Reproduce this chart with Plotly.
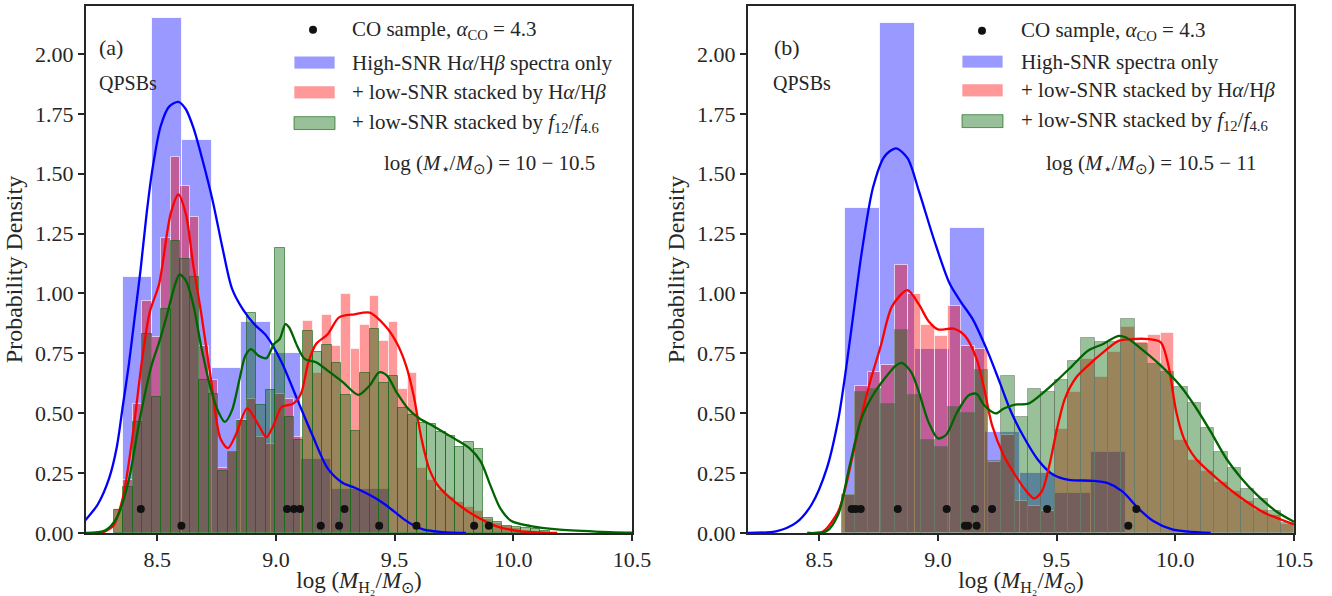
import plotly.graph_objects as go

# ---------------- data ----------------
X_RANGE = [8.2, 10.5]
Y_RANGE = [0.0, 2.2]
X_TICKS = [8.5, 9.0, 9.5, 10.0, 10.5]
X_TICK_LABELS = ["8.5", "9.0", "9.5", "10.0", "10.5"]
Y_TICKS = [0.0, 0.25, 0.5, 0.75, 1.0, 1.25, 1.5, 1.75, 2.0]
Y_TICK_LABELS = ["0.00", "0.25", "0.50", "0.75", "1.00", "1.25", "1.50", "1.75", "2.00"]

# Panel (a): log(M*/Msun) = 10 - 10.5
a_blue_start, a_blue_width = 8.355, 0.125
a_blue_heights = [1.07, 2.15, 1.64, 0.69, 0.88, 0.75, 0.31, 0.185, 0.185]

a_fine_start, a_fine_width = 8.318, 0.0399
a_red_heights = [0.10, 0.22, 0.54, 0.97, 0.82, 1.23, 1.57, 1.45, 1.32, 0.78,
                 0.64, 0.27, 0.34, 0.47, 0.56, 0.40, 0.37, 0.58, 0.56, 0.40,
                 0.885, 0.67, 0.909, 0.78, 0.996, 0.77, 0.87, 0.99, 0.80, 0.88,
                 0.60, 0.668, 0.27, 0.22, 0.18, 0.15, 0.13, 0.11, 0.09, 0.06,
                 0.04, 0.03, 0.02, 0.01]
a_green_heights = [0.098, 0.19, 0.464, 0.83, 0.568, 0.934, 1.22, 1.144, 1.07, 0.64,
                   0.58, 0.26, 0.34, 0.467, 0.92, 0.536, 0.597, 1.19, 0.485, 0.39,
                   0.845, 0.754, 0.785, 0.71, 0.577, 0.425, 0.67, 0.85, 0.627, 0.655,
                   0.52, 0.494, 0.46, 0.454, 0.42, 0.405, 0.36, 0.38, 0.35, 0.063,
                   0.047, 0.03, 0.025, 0.02, 0.015, 0.01]

a_blue_kde_x = [8.194, 8.25, 8.298, 8.33, 8.355, 8.38, 8.405, 8.43, 8.455, 8.48,
                8.515, 8.55, 8.589, 8.62, 8.653, 8.69, 8.734, 8.775, 8.815,
                8.863, 8.91, 8.96, 9.024, 9.089, 9.153, 9.218, 9.282, 9.33,
                9.379, 9.42, 9.46, 9.50, 9.54, 9.58, 9.62, 9.70, 9.80]
a_blue_kde_y = [0.05, 0.12, 0.23, 0.36, 0.53, 0.70, 0.90, 1.10, 1.33, 1.52,
                1.70, 1.78, 1.80, 1.77, 1.69, 1.56, 1.385, 1.19, 1.02,
                0.93, 0.87, 0.823, 0.713, 0.56, 0.41, 0.27, 0.209, 0.19,
                0.167, 0.145, 0.119, 0.088, 0.057, 0.032, 0.015, 0.004, 0.0]

a_red_kde_x = [8.266, 8.315, 8.355, 8.395, 8.435, 8.468, 8.508, 8.556, 8.589, 8.621,
               8.653, 8.685, 8.726, 8.766, 8.798, 8.831, 8.879, 8.927, 8.96, 8.99,
               9.024, 9.073, 9.105, 9.137, 9.169, 9.218, 9.266, 9.33, 9.395, 9.46,
               9.508, 9.548, 9.58, 9.613, 9.645, 9.685, 9.75, 9.83, 9.927, 10.024,
               10.185]
a_red_kde_y = [0.0, 0.03, 0.146, 0.395, 0.713, 0.92, 1.04, 1.33, 1.413, 1.33,
               1.11, 0.92, 0.644, 0.395, 0.354, 0.41, 0.52, 0.45, 0.40, 0.45,
               0.526, 0.54, 0.58, 0.713, 0.789, 0.83, 0.90, 0.913, 0.92, 0.865,
               0.795, 0.70, 0.575, 0.395, 0.27, 0.195, 0.133, 0.077, 0.029, 0.008,
               0.0]

a_green_kde_x = [8.194, 8.282, 8.33, 8.379, 8.427, 8.476, 8.508, 8.54, 8.573, 8.594,
                 8.621, 8.653, 8.685, 8.726, 8.758, 8.785, 8.815, 8.847, 8.871, 8.895,
                 8.927, 8.96, 8.992, 9.016, 9.04, 9.056, 9.089, 9.121, 9.169, 9.218,
                 9.282, 9.347, 9.395, 9.435, 9.468, 9.508, 9.556, 9.605, 9.669, 9.75,
                 9.815, 9.863, 9.903, 9.944, 9.992, 10.073, 10.185, 10.347, 10.5]
a_green_kde_y = [0.0, 0.011, 0.064, 0.215, 0.478, 0.699, 0.796, 0.906, 1.03, 1.079,
                 1.054, 0.948, 0.78, 0.60, 0.505, 0.464, 0.512, 0.644, 0.74, 0.768,
                 0.74, 0.73, 0.789, 0.81, 0.872, 0.858, 0.782, 0.727, 0.713, 0.678,
                 0.63, 0.577, 0.616, 0.671, 0.657, 0.588, 0.52, 0.478, 0.443, 0.395,
                 0.354, 0.298, 0.20, 0.105, 0.05, 0.029, 0.015, 0.006, 0.001]

a_co_upper_x = [8.431, 9.047, 9.076, 9.102, 9.289]
a_co_lower_x = [8.602, 9.189, 9.266, 9.435, 9.592, 9.835, 9.897]

# Panel (b): log(M*/Msun) = 10.5 - 11
b_blue_start, b_blue_width = 8.607, 0.148
b_blue_heights = [1.358, 2.128, 0.77, 1.272, 0.42, 0.25, 0.167, 0.337]

b_fine_start, b_fine_width = 8.594, 0.0561
b_red_heights = [0.16, 0.613, 0.671, 0.70, 1.12, 0.996, 0.867, 0.823, 0.947, 0.78,
                 0.77, 0.298, 0.41, 0.135, 0.112, 0.09, 0.436, 0.588, 0.726, 0.65,
                 0.757, 0.86, 0.796, 0.826, 0.833, 0.388, 0.305, 0.257, 0.215, 0.174,
                 0.133, 0.098, 0.075, 0.036]
b_green_heights = [0.157, 0.588, 0.60, 0.54, 0.848, 0.577, 0.39, 0.36, 0.526, 0.50,
                   0.68, 0.30, 0.655, 0.485, 0.60, 0.588, 0.637, 0.72, 0.816, 0.796,
                   0.796, 0.895, 0.79, 0.706, 0.671, 0.609, 0.544, 0.439, 0.34, 0.273,
                   0.185, 0.142, 0.091, 0.04]

b_blue_kde_x = [8.177, 8.322, 8.403, 8.468, 8.532, 8.581, 8.613, 8.654, 8.678, 8.726,
                8.775, 8.823, 8.872, 8.92, 8.985, 9.05, 9.1, 9.147, 9.211, 9.26,
                9.308, 9.357, 9.422, 9.486, 9.551, 9.648, 9.713, 9.777, 9.842, 9.907,
                9.987, 10.149]
b_blue_kde_y = [0.0, 0.008, 0.043, 0.119, 0.27, 0.478, 0.685, 0.99, 1.164, 1.44,
                1.572, 1.606, 1.565, 1.427, 1.22, 1.04, 0.96, 0.892, 0.754, 0.63,
                0.506, 0.409, 0.305, 0.243, 0.222, 0.218, 0.209, 0.174, 0.105, 0.05,
                0.015, 0.0]

b_red_kde_x = [8.45, 8.516, 8.58, 8.613, 8.662, 8.71, 8.759, 8.807, 8.872, 8.92,
               8.96, 9.0, 9.066, 9.114, 9.163, 9.195, 9.228, 9.276, 9.325, 9.373,
               9.405, 9.438, 9.47, 9.502, 9.535, 9.583, 9.632, 9.696, 9.761, 9.81,
               9.89, 9.939, 9.971, 10.004, 10.036, 10.085, 10.182, 10.278, 10.376, 10.5]
b_red_kde_y = [0.0, 0.006, 0.09, 0.20, 0.42, 0.616, 0.78, 0.947, 1.014, 0.954,
               0.885, 0.85, 0.853, 0.823, 0.727, 0.602, 0.45, 0.326, 0.243, 0.174,
               0.144, 0.174, 0.285, 0.436, 0.561, 0.65, 0.699, 0.754, 0.802, 0.809,
               0.809, 0.796, 0.699, 0.506, 0.395, 0.312, 0.222, 0.146, 0.084, 0.036]

b_green_kde_x = [8.45, 8.532, 8.58, 8.629, 8.678, 8.726, 8.775, 8.823, 8.848, 8.888,
                 8.92, 8.96, 9.0, 9.034, 9.082, 9.13, 9.163, 9.195, 9.244, 9.276,
                 9.325, 9.381, 9.438, 9.502, 9.567, 9.632, 9.696, 9.761, 9.793, 9.858,
                 9.939, 10.02, 10.085, 10.149, 10.214, 10.278, 10.343, 10.424, 10.5]
b_green_kde_y = [0.0, 0.008, 0.077, 0.285, 0.478, 0.575, 0.644, 0.699, 0.71, 0.671,
                 0.588, 0.464, 0.395, 0.409, 0.506, 0.575, 0.581, 0.533, 0.499, 0.519,
                 0.536, 0.54, 0.581, 0.637, 0.699, 0.761, 0.789, 0.823, 0.816, 0.768,
                 0.699, 0.616, 0.526, 0.423, 0.312, 0.229, 0.16, 0.091, 0.047]

b_co_upper_x = [8.637, 8.653, 8.675, 8.831, 9.037, 9.156, 9.228, 9.460, 9.836]
b_co_lower_x = [9.114, 9.127, 9.163, 9.802]

CO_UPPER_Y = 0.10
CO_LOWER_Y = 0.03

LEGEND_LABELS = {
    "a": ["CO sample, <i>α</i><sub>CO</sub> = 4.3",
          "High-SNR H<i>α</i>/H<i>β</i> spectra only",
          "+ low-SNR stacked by H<i>α</i>/H<i>β</i>",
          "+ low-SNR stacked by <i>f</i><sub>12</sub>/<i>f</i><sub>4.6</sub>"],
    "b": ["CO sample, <i>α</i><sub>CO</sub> = 4.3",
          "High-SNR spectra only",
          "+ low-SNR stacked by H<i>α</i>/H<i>β</i>",
          "+ low-SNR stacked by <i>f</i><sub>12</sub>/<i>f</i><sub>4.6</sub>"],
}
MASS_LABELS = {"a": "log (<i>M</i><sub>⋆</sub>/<i>M</i><sub>⊙</sub>) = 10 − 10.5",
               "b": "log (<i>M</i><sub>⋆</sub>/<i>M</i><sub>⊙</sub>) = 10.5 − 11"}
PANEL_LABELS = {"a": "(a)", "b": "(b)"}
SAMPLE_LABEL = "QPSBs"
X_TITLE = "log (<i>M</i><sub>H₂</sub>/<i>M</i><sub>⊙</sub>)"
Y_TITLE = "Probability Density"

# ---------------- style ----------------
FONT = "Liberation Serif"
INK = "#262626"
BLUE_FILL = "rgba(0,0,255,0.4)"
RED_FILL = "rgba(255,0,0,0.4)"
GREEN_FILL = "rgba(0,100,0,0.4)"

W, H = 1332, 596
ML, MR, MT, MB = 86, 38, 4, 61
PLOT_W = W - ML - MR
PANEL_PX = {"a": (86, 632), "b": (748, 1294)}
AX = {"a": ("x", "y"), "b": ("x2", "y2")}


def centers(start, width, n):
    return [start + width * (i + 0.5) for i in range(n)]


fig = go.Figure()


def add_bars(panel, start, width, heights, fill, edge, edge_w):
    xa, ya = AX[panel]
    fig.add_trace(go.Bar(
        x=centers(start, width, len(heights)), y=heights, width=width,
        marker=dict(color=fill, line=dict(color=edge, width=edge_w)),
        xaxis=xa, yaxis=ya, showlegend=False, hoverinfo="x+y"))


def add_line(panel, xs, ys, color):
    xa, ya = AX[panel]
    fig.add_trace(go.Scatter(x=xs, y=ys, mode="lines",
                             line=dict(color=color, width=2.3, shape="spline", smoothing=0.8),
                             xaxis=xa, yaxis=ya, showlegend=False))


def add_dots(panel, up, low):
    xa, ya = AX[panel]
    fig.add_trace(go.Scatter(x=up + low, y=[CO_UPPER_Y] * len(up) + [CO_LOWER_Y] * len(low),
                             mode="markers", marker=dict(color="#111111", size=8),
                             xaxis=xa, yaxis=ya, showlegend=False))


# panel a
add_bars("a", a_blue_start, a_blue_width, a_blue_heights, BLUE_FILL, "rgba(255,255,255,0.8)", 1)
add_bars("a", a_fine_start, a_fine_width, a_red_heights, RED_FILL, "rgba(255,255,255,0.6)", 1)
add_bars("a", a_fine_start, a_fine_width, a_green_heights, GREEN_FILL, "rgba(0,90,0,0.55)", 1)
# panel b
add_bars("b", b_blue_start, b_blue_width, b_blue_heights, BLUE_FILL, "rgba(255,255,255,0.8)", 1)
add_bars("b", b_fine_start, b_fine_width, b_red_heights, RED_FILL, "rgba(255,255,255,0.6)", 1)
add_bars("b", b_fine_start, b_fine_width, b_green_heights, GREEN_FILL, "rgba(90,100,90,0.45)", 1)

add_line("a", a_blue_kde_x, a_blue_kde_y, "#0000ff")
add_line("a", a_red_kde_x, a_red_kde_y, "#ff0000")
add_line("a", a_green_kde_x, a_green_kde_y, "#006400")
add_line("b", b_blue_kde_x, b_blue_kde_y, "#0000ff")
add_line("b", b_red_kde_x, b_red_kde_y, "#ff0000")
add_line("b", b_green_kde_x, b_green_kde_y, "#006400")

add_dots("a", a_co_upper_x, a_co_lower_x)
add_dots("b", b_co_upper_x, b_co_lower_x)

# ---------------- axes ----------------
axis_common = dict(showline=True, mirror=True, linecolor=INK, linewidth=2, ticks="outside",
                   ticklen=6, tickwidth=1.6, tickcolor=INK, showgrid=False, zeroline=False,
                   tickfont=dict(family=FONT, size=22, color=INK))
d_a = [(PANEL_PX["a"][0] - ML) / PLOT_W, (PANEL_PX["a"][1] - ML) / PLOT_W]
d_b = [(PANEL_PX["b"][0] - ML) / PLOT_W, (PANEL_PX["b"][1] - ML) / PLOT_W]

fig.update_layout(
    width=W, height=H, margin=dict(l=ML, r=MR, t=MT, b=MB),
    paper_bgcolor="white", plot_bgcolor="white", barmode="overlay", bargap=0,
    font=dict(family=FONT, color=INK),
    xaxis=dict(domain=d_a, range=X_RANGE, tickvals=X_TICKS, ticktext=X_TICK_LABELS, anchor="y",
               title=dict(text=X_TITLE, font=dict(family=FONT, size=23, color=INK), standoff=3), **axis_common),
    yaxis=dict(domain=[0, 1], range=Y_RANGE, tickvals=Y_TICKS, ticktext=Y_TICK_LABELS, anchor="x",
               title=dict(text=Y_TITLE, font=dict(family=FONT, size=24, color=INK), standoff=6), **axis_common),
    xaxis2=dict(domain=d_b, range=X_RANGE, tickvals=X_TICKS, ticktext=X_TICK_LABELS, anchor="y2",
                title=dict(text=X_TITLE, font=dict(family=FONT, size=23, color=INK), standoff=3), **axis_common),
    yaxis2=dict(domain=[0, 1], range=Y_RANGE, tickvals=Y_TICKS, ticktext=Y_TICK_LABELS, anchor="x2",
                title=dict(text=Y_TITLE, font=dict(family=FONT, size=24, color=INK), standoff=6), **axis_common),
)

# ---------------- legends & labels (drawn in axis-domain coordinates) ----------------
def dx(panel, px):
    x0, x1 = PANEL_PX[panel]
    return (px - x0) / (x1 - x0)


def dy(py):
    return 1 - (py - MT) / (H - MT - MB)


LEG = {
    "a": dict(dot_x=313, patch=(294, 335), text_x=350, rows=[28, 61, 91, 122], mass=(489, 163),
              panel=(97, 46), sample=(97, 82)),
    "b": dict(dot_x=982, patch=(962, 1003), text_x=1019, rows=[29, 60, 89, 120], mass=(1151, 163),
              panel=(772, 46), sample=(771, 82)),
}
fills = [BLUE_FILL, RED_FILL, GREEN_FILL]
edges = ["rgba(255,255,255,0.8)", "rgba(255,255,255,0.6)", "rgba(0,90,0,0.6)"]

for p, cfg in LEG.items():
    xa, ya = AX[p]
    xr, yr = xa + " domain", ya + " domain"
    r = 4
    fig.add_shape(type="circle", xref=xr, yref=yr,
                  x0=dx(p, cfg["dot_x"] - r), x1=dx(p, cfg["dot_x"] + r),
                  y0=dy(cfg["rows"][0] + r), y1=dy(cfg["rows"][0] - r),
                  fillcolor="#111111", line=dict(width=0))
    for i in range(3):
        yc = cfg["rows"][i + 1]
        fig.add_shape(type="rect", xref=xr, yref=yr,
                      x0=dx(p, cfg["patch"][0]), x1=dx(p, cfg["patch"][1]),
                      y0=dy(yc + 6.5), y1=dy(yc - 6.5),
                      fillcolor=fills[i], line=dict(color=edges[i], width=1))
    for i, lab in enumerate(LEGEND_LABELS[p]):
        fig.add_annotation(xref=xr, yref=yr, x=dx(p, cfg["text_x"]), y=dy(cfg["rows"][i]),
                           text=lab, showarrow=False, xanchor="left", yanchor="middle",
                           font=dict(family=FONT, size=21, color=INK))
    fig.add_annotation(xref=xr, yref=yr, x=dx(p, cfg["mass"][0]), y=dy(cfg["mass"][1]),
                       text=MASS_LABELS[p], showarrow=False, xanchor="center", yanchor="middle",
                       font=dict(family=FONT, size=21, color=INK))
    fig.add_annotation(xref=xr, yref=yr, x=dx(p, cfg["panel"][0]), y=dy(cfg["panel"][1]),
                       text=PANEL_LABELS[p], showarrow=False, xanchor="left", yanchor="middle",
                       font=dict(family=FONT, size=22, color=INK))
    fig.add_annotation(xref=xr, yref=yr, x=dx(p, cfg["sample"][0]), y=dy(cfg["sample"][1]),
                       text=SAMPLE_LABEL, showarrow=False, xanchor="left", yanchor="middle",
                       font=dict(family=FONT, size=20, color=INK))

fig.write_html("out.html", config={"displayModeBar": False},
               post_script="document.body.style.margin='0px';document.body.style.overflow='hidden';")
